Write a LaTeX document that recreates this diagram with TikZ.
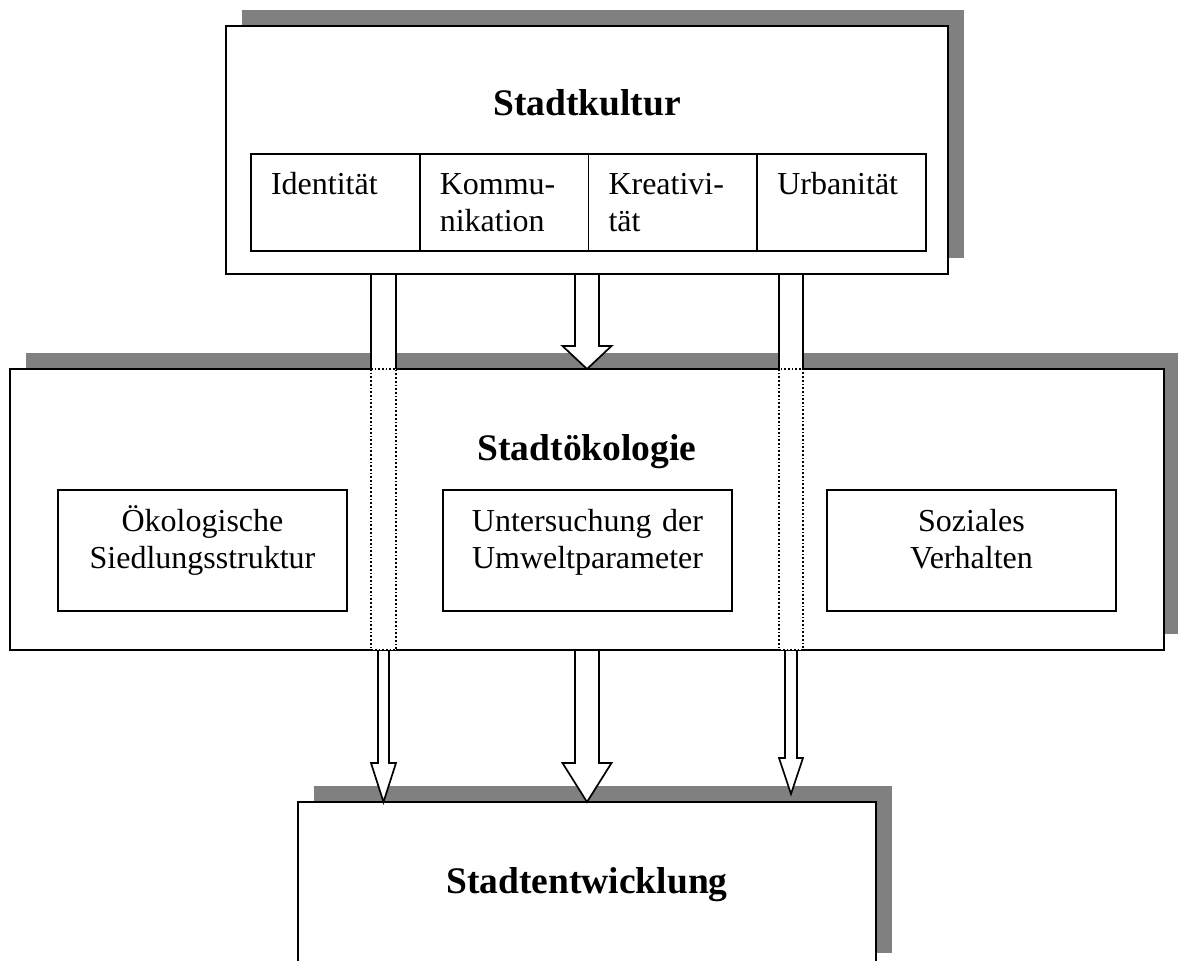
\documentclass[tikz,border=0pt]{standalone}
\usepackage{fontspec}
\setmainfont{Liberation Serif}
\usetikzlibrary{shadows}

\newcommand{\titelschrift}{\fontsize{37.5}{43}\selectfont\bfseries}
\newcommand{\grundschrift}{\fontsize{32}{37}\selectfont}
% 块状箭头: x, 起点 y, 箭尖 y, 半箭杆宽, 半箭头宽, 箭头长
\newcommand{\pfeil}[6]{%
  \draw[pfeillinie] (#1-#4,#2) -- (#1-#4,#3-#6) -- (#1-#5,#3-#6) -- (#1,#3)
    -- (#1+#5,#3-#6) -- (#1+#4,#3-#6) -- (#1+#4,#2);}

\begin{document}
\begin{tikzpicture}[x=1pt, y=-1pt,
    hauptbox/.style={draw, fill=white, line width=1.7pt, inner sep=0pt, outer sep=0pt,
      font=\titelschrift, anchor=north west,
      drop shadow={shadow xshift=16pt, shadow yshift=16pt, fill=gray, opacity=1}},
    zelle/.style={draw, line width=1.7pt, inner xsep=20pt, inner ysep=0pt, outer sep=0pt,
      text width=128.75pt, align=left, text height=40pt, text depth=57pt,
      font=\grundschrift, anchor=north west},
    innenbox/.style={draw, line width=1.7pt, inner xsep=10pt, inner ysep=0pt, outer sep=0pt,
      text width=269pt, align=center, text height=41.7pt, text depth=79.3pt,
      font=\grundschrift, anchor=north west},
    pfeillinie/.style={draw, fill=white, line width=1.7pt}]
        \useasboundingbox (0,0) rectangle (1178,961);
        % 城市文化
        \node [hauptbox, minimum width=722pt, text height=89pt, text depth=159pt] (kultur) at (226,26) {Stadtkultur};
        \node [zelle] (identitaet) at (251,154) {Identität};
        \node [zelle] (kommunikation) at (identitaet.north east) {Kommu-\\nikation};
        \node [zelle] (kreativitaet) at (kommunikation.north east) {Kreativi-\\tät};
        \node [zelle] (urbanitaet) at (kreativitaet.north east) {Urbanität};
        % 城市生态
        \node [hauptbox, minimum width=1154pt, text height=91pt, text depth=190pt] (oekologie) at (10,369) {Stadtökologie};
        \node [innenbox] (siedlung) at (58,490) {Ökologische\\Siedlungsstruktur};
        \node [innenbox] (umwelt) at (443,490) {Untersuchung der\\Umweltparameter};
        \node [innenbox] (verhalten) at (827,490) {Soziales\\Verhalten};
        % 城市发展
        \node [hauptbox, minimum width=578pt, text height=91pt, text depth=76pt] (entwicklung) at (298,802) {Stadtentwicklung};
        % 穿过的箭杆
        \fill [white] (371,275) rectangle (396,369);
        \draw [line width=1.7pt] (371,275) -- (371,369) (396,275) -- (396,369);
        \draw [line width=1.7pt,dotted,fill=white] (371,369) rectangle (396,650);
        \fill [white] (779,275) rectangle (803,369);
        \draw [line width=1.7pt] (779,275) -- (779,369) (803,275) -- (803,369);
        \draw [line width=1.7pt,dotted,fill=white] (779,369) rectangle (803,650);
        % 箭头
        \pfeil{587}{275}{369}{12}{24.5}{23}
        \pfeil{383.5}{651}{802}{5.5}{12.5}{39}
        \pfeil{587}{651}{802}{12}{24.5}{39}
        \pfeil{791}{651}{794}{6}{12}{36}
    \end{tikzpicture}
\end{document}
